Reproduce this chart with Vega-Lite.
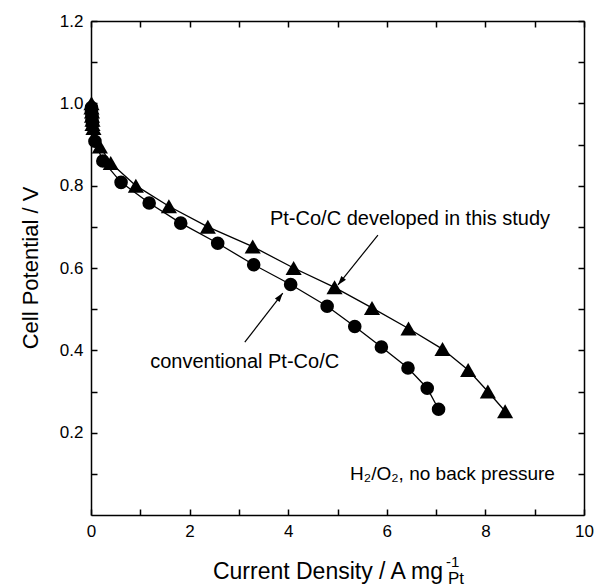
{
  "$schema": "https://vega.github.io/schema/vega-lite/v6.json",
  "width": 493,
  "height": 494,
  "autosize": {"type": "none"},
  "padding": {"left": 91, "top": 21, "right": 11, "bottom": 72},
  "background": "white",
  "config": {
    "font": "Liberation Sans",
    "view": {"stroke": null},
    "axis": {
      "grid": false,
      "domainColor": "black",
      "domainWidth": 1.5,
      "tickColor": "black",
      "tickWidth": 1.5,
      "tickSize": -6,
      "labelColor": "black",
      "labelFontSize": 17,
      "titleColor": "black"
    }
  },
  "datasets": {
    "curves": [
      {"series": "conventional", "i": 1, "j": 0.01, "v": 0.99},
      {"series": "conventional", "i": 2, "j": 0.01, "v": 0.98},
      {"series": "conventional", "i": 3, "j": 0.02, "v": 0.97},
      {"series": "conventional", "i": 4, "j": 0.02, "v": 0.96},
      {"series": "conventional", "i": 5, "j": 0.03, "v": 0.95},
      {"series": "conventional", "i": 6, "j": 0.08, "v": 0.908},
      {"series": "conventional", "i": 7, "j": 0.24, "v": 0.86},
      {"series": "conventional", "i": 8, "j": 0.61, "v": 0.808},
      {"series": "conventional", "i": 9, "j": 1.18, "v": 0.758},
      {"series": "conventional", "i": 10, "j": 1.82, "v": 0.709},
      {"series": "conventional", "i": 11, "j": 2.57, "v": 0.66},
      {"series": "conventional", "i": 12, "j": 3.3, "v": 0.608},
      {"series": "conventional", "i": 13, "j": 4.05, "v": 0.56},
      {"series": "conventional", "i": 14, "j": 4.79, "v": 0.507},
      {"series": "conventional", "i": 15, "j": 5.35, "v": 0.458},
      {"series": "conventional", "i": 16, "j": 5.89, "v": 0.408},
      {"series": "conventional", "i": 17, "j": 6.43, "v": 0.357},
      {"series": "conventional", "i": 18, "j": 6.82, "v": 0.308},
      {"series": "conventional", "i": 19, "j": 7.05, "v": 0.257},
      {"series": "developed", "i": 1, "j": 0.01, "v": 1.0},
      {"series": "developed", "i": 2, "j": 0.01, "v": 0.99},
      {"series": "developed", "i": 3, "j": 0.02, "v": 0.98},
      {"series": "developed", "i": 4, "j": 0.02, "v": 0.97},
      {"series": "developed", "i": 5, "j": 0.03, "v": 0.96},
      {"series": "developed", "i": 6, "j": 0.03, "v": 0.95},
      {"series": "developed", "i": 7, "j": 0.05, "v": 0.94},
      {"series": "developed", "i": 8, "j": 0.18, "v": 0.895},
      {"series": "developed", "i": 9, "j": 0.4, "v": 0.855},
      {"series": "developed", "i": 10, "j": 0.91, "v": 0.8},
      {"series": "developed", "i": 11, "j": 1.58, "v": 0.75},
      {"series": "developed", "i": 12, "j": 2.37, "v": 0.7},
      {"series": "developed", "i": 13, "j": 3.28, "v": 0.652},
      {"series": "developed", "i": 14, "j": 4.11, "v": 0.6},
      {"series": "developed", "i": 15, "j": 4.94, "v": 0.553},
      {"series": "developed", "i": 16, "j": 5.7, "v": 0.503},
      {"series": "developed", "i": 17, "j": 6.44, "v": 0.453},
      {"series": "developed", "i": 18, "j": 7.13, "v": 0.403},
      {"series": "developed", "i": 19, "j": 7.65, "v": 0.352},
      {"series": "developed", "i": 20, "j": 8.05, "v": 0.3},
      {"series": "developed", "i": 21, "j": 8.4, "v": 0.252}
    ],
    "texts": [
      {"text": "Pt-Co/C developed in this study", "j": 3.63, "v": 0.704, "align": "left", "size": 20},
      {"text": "conventional Pt-Co/C", "j": 1.2, "v": 0.357, "align": "left", "size": 20},
      {"text": "H₂/O₂, no back pressure", "j": 9.41, "v": 0.084, "align": "right", "size": 19},
      {"text": "Current Density / A mg", "j": 7.14, "v": -0.155, "align": "right", "size": 23},
      {"text": "-1", "j": 7.2, "v": -0.127, "align": "left", "size": 15},
      {"text": "Pt", "j": 7.24, "v": -0.168, "align": "left", "size": 17}
    ],
    "arrows": [
      {"j": 5.82, "v": 0.68, "j2": 5.01, "v2": 0.559, "angle": 218.7},
      {"j": 3.12, "v": 0.42, "j2": 3.89, "v2": 0.539, "angle": 37.8}
    ]
  },
  "layer": [
    {
      "data": {"name": "curves"},
      "mark": {"type": "line", "color": "black", "strokeWidth": 1.3},
      "encoding": {
        "x": {
          "field": "j", "type": "quantitative",
          "scale": {"domain": [0, 10], "nice": false, "zero": false},
          "axis": {
            "orient": "bottom",
            "values": [0, 1, 2, 3, 4, 5, 6, 7, 8, 9, 10],
            "labelExpr": "datum.value % 2 == 0 ? format(datum.value, 'd') : ''",
            "labelPadding": 14,
            "labelFlush": false,
            "labelOverlap": false,
            "title": null
          }
        },
        "y": {
          "field": "v", "type": "quantitative",
          "scale": {"domain": [0, 1.2], "nice": false, "zero": false},
          "axis": {
            "orient": "left",
            "values": [0.1, 0.2, 0.3, 0.4, 0.5, 0.6, 0.7, 0.8, 0.9, 1.0, 1.1, 1.2],
            "labelExpr": "round(datum.value * 10) % 2 == 0 ? format(datum.value, '.1f') : ''",
            "labelPadding": 14,
            "labelFlush": false,
            "labelOverlap": false,
            "title": "Cell Potential / V",
            "titleFontSize": 22,
            "titleFontWeight": "normal",
            "titleX": -54,
            "titleY": 246.5,
            "titleAngle": 270,
            "titleAlign": "center",
            "titleBaseline": "alphabetic"
          }
        },
        "detail": {"field": "series"},
        "order": {"field": "i", "type": "quantitative"}
      }
    },
    {
      "data": {"name": "curves"},
      "transform": [{"filter": "datum.series == 'conventional'"}],
      "mark": {"type": "point", "shape": "circle", "filled": true, "color": "black", "opacity": 1, "size": 185},
      "encoding": {
        "x": {
          "field": "j", "type": "quantitative",
          "axis": {
            "orient": "top",
            "values": [0, 1, 2, 3, 4, 5, 6, 7, 8, 9, 10],
            "labels": false,
            "title": null
          }
        },
        "y": {
          "field": "v", "type": "quantitative",
          "axis": {
            "orient": "right",
            "values": [0.1, 0.2, 0.3, 0.4, 0.5, 0.6, 0.7, 0.8, 0.9, 1.0, 1.1, 1.2],
            "labels": false,
            "title": null
          }
        }
      }
    },
    {
      "data": {"name": "curves"},
      "transform": [{"filter": "datum.series == 'developed'"}],
      "mark": {"type": "point", "shape": "triangle-up", "filled": true, "color": "black", "opacity": 1, "size": 260},
      "encoding": {
        "x": {"field": "j", "type": "quantitative", "axis": null},
        "y": {"field": "v", "type": "quantitative", "axis": null}
      }
    },
    {
      "data": {"name": "arrows"},
      "mark": {"type": "rule", "color": "black", "strokeWidth": 1.2},
      "encoding": {
        "x": {"field": "j", "type": "quantitative", "axis": null},
        "y": {"field": "v", "type": "quantitative", "axis": null},
        "x2": {"field": "j2"},
        "y2": {"field": "v2"}
      }
    },
    {
      "data": {"name": "arrows"},
      "mark": {"type": "point", "shape": "M0,0L1,3L-1,3Z", "filled": true, "color": "black", "opacity": 1, "size": 36},
      "encoding": {
        "x": {"field": "j2", "type": "quantitative", "axis": null},
        "y": {"field": "v2", "type": "quantitative", "axis": null},
        "angle": {"field": "angle", "type": "quantitative", "scale": null}
      }
    },
    {
      "data": {"name": "texts"},
      "transform": [{"filter": "datum.align == 'left'"}],
      "mark": {"type": "text", "color": "black", "baseline": "alphabetic", "align": "left"},
      "encoding": {
        "x": {"field": "j", "type": "quantitative", "axis": null},
        "y": {"field": "v", "type": "quantitative", "axis": null},
        "text": {"field": "text"},
        "size": {"field": "size", "type": "quantitative", "scale": null}
      }
    },
    {
      "data": {"name": "texts"},
      "transform": [{"filter": "datum.align == 'right'"}],
      "mark": {"type": "text", "color": "black", "baseline": "alphabetic", "align": "right"},
      "encoding": {
        "x": {"field": "j", "type": "quantitative", "axis": null},
        "y": {"field": "v", "type": "quantitative", "axis": null},
        "text": {"field": "text"},
        "size": {"field": "size", "type": "quantitative", "scale": null}
      }
    }
  ],
  "resolve": {"axis": {"x": "independent", "y": "independent"}}
}
